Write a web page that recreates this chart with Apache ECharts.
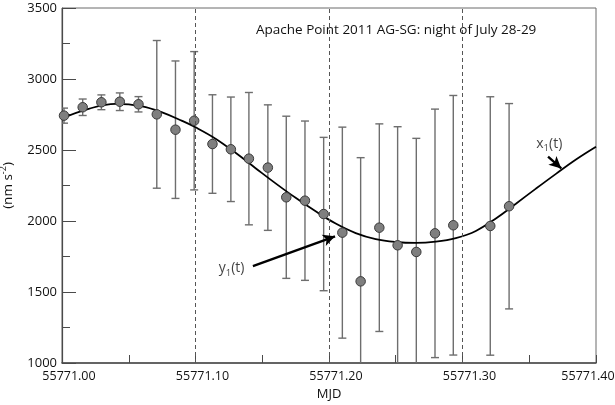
<!DOCTYPE html>
<html>
<head>
<meta charset="utf-8">
<script src="https://cdn.jsdelivr.net/npm/echarts@6/dist/echarts.min.js"></script>
<style>
html,body{margin:0;padding:0;background:#fff;}
#c{width:615px;height:405px;}
</style>
</head>
<body>
<div id="c"></div>
<script>
// ---- data ----
var mjd = [55771.0015, 55771.0155, 55771.0295, 55771.0433, 55771.0573, 55771.0710, 55771.0850, 55771.0990,
           55771.1127, 55771.1265, 55771.1400, 55771.1542, 55771.1680, 55771.1820, 55771.1960, 55771.2100,
           55771.2237, 55771.2377, 55771.2514, 55771.2654, 55771.2794, 55771.2931, 55771.3208, 55771.3349];
var gravity = [2742, 2801, 2836, 2840, 2822, 2751, 2643, 2706,
               2542, 2505, 2439, 2376, 2167, 2143, 2049, 1918,
               1575, 1953, 1829, 1782, 1913, 1970, 1965, 2104];
var errors = [53, 58, 52, 62, 54, 520, 484, 487,
              347, 368, 466, 442, 571, 561, 540, 743,
              871, 731, 835, 800, 875, 914, 910, 723];

var curveMjd = [55771.000, 55771.020, 55771.040, 55771.060, 55771.075, 55771.090, 55771.100, 55771.115,
                55771.130, 55771.145, 55771.160, 55771.175, 55771.190, 55771.205, 55771.220, 55771.235,
                55771.250, 55771.265, 55771.280, 55771.295, 55771.310, 55771.325, 55771.340, 55771.355,
                55771.370, 55771.385, 55771.400];
var curveVal = [2723, 2790, 2825, 2808, 2765, 2705, 2660, 2580,
                2480, 2372, 2265, 2163, 2068, 1982, 1915, 1872,
                1852, 1846, 1855, 1880, 1930, 2018, 2122, 2228,
                2332, 2433, 2523];

var dashedMjd = [55771.10, 55771.20, 55771.30];

var titleText = 'Apache Point 2011 AG-SG: night of July 28-29';
var xName = 'MJD';
var xMin = 55771.00, xMax = 55771.40, xStep = 0.1;
var yMin = 1000, yMax = 3500, yStep = 500;

// annotations: [label point], [arrow start, arrow end]
var x1Label = [55771.365, 2545];
var x1Arrow = [[55771.3641, 2454], [55771.3740, 2370]];
var y1Label = [55771.127, 1669];
var y1Arrow = [[55771.1430, 1683], [55771.2045, 1892]];

var FONT = 'Open Sans';

var chart = echarts.init(document.getElementById('c'), null, {renderer: 'canvas'});

var pts = mjd.map(function (x, i) { return [x, gravity[i], errors[i]]; });
var curve = curveMjd.map(function (x, i) { return [x, curveVal[i]]; });

function arrowLine(a) {
  return [{coord: a[0], symbol: 'none'}, {coord: a[1], symbol: 'arrow'}];
}

var option = {
  animation: false,
  backgroundColor: '#ffffff',
  title: {
    text: titleText,
    left: 251, top: 18,
    textStyle: {fontFamily: FONT, fontSize: 13.5, fontWeight: 'normal', color: '#111'}
  },
  grid: {
    left: 62, right: 19, top: 8, bottom: 42,
    containLabel: false, outerBoundsMode: 'none',
    show: true, borderColor: '#6a6a6a', borderWidth: 1, backgroundColor: 'transparent'
  },
  xAxis: {
    type: 'value', min: xMin, max: xMax, interval: xStep,
    name: xName, nameLocation: 'middle', nameGap: 25,
    nameTextStyle: {fontFamily: FONT, fontSize: 13, color: '#111'},
    axisLine: {lineStyle: {color: '#4a4a4a', width: 1.6}},
    axisTick: {inside: true, length: 8, lineStyle: {color: '#4a4a4a', width: 1}},
    minorTick: {show: true, splitNumber: 2, length: 8, lineStyle: {color: '#4a4a4a', width: 1}},
    splitLine: {show: false},
    axisLabel: {
      margin: 7, color: '#111', fontFamily: FONT, fontSize: 12.5,
      formatter: function (v) {
        var s = v.toFixed(2);
        if (Math.abs(v - xMax) < 1e-6) return '{e|' + s + '}';
        return '{n|' + s + '}';
      },
      rich: {
        n: {fontFamily: FONT, fontSize: 12.5, color: '#111', padding: [0, 0, 0, 14]},
        e: {fontFamily: FONT, fontSize: 12.5, color: '#111', padding: [0, 16, 0, 0]}
      }
    }
  },
  yAxis: {
    type: 'value', min: yMin, max: yMax, interval: yStep,
    name: '{a|(nm s}{s|-2}{a|)}', nameLocation: 'middle', nameGap: 44, nameRotate: 90,
    nameTextStyle: {
      rich: {
        a: {fontFamily: FONT, fontSize: 13.5, color: '#111', lineHeight: 19, verticalAlign: 'middle'},
        s: {fontFamily: FONT, fontSize: 9, color: '#111', lineHeight: 9, verticalAlign: 'top'}
      }
    },
    axisLine: {show: true, lineStyle: {color: '#4a4a4a', width: 1.2}},
    axisTick: {inside: true, length: 14, lineStyle: {color: '#4a4a4a', width: 1}},
    minorTick: {show: true, splitNumber: 2, length: 8, lineStyle: {color: '#4a4a4a', width: 1}},
    splitLine: {show: false},
    axisLabel: {
      margin: 5, color: '#111', fontFamily: FONT, fontSize: 13,
      formatter: function (v) { return String(Math.round(v)); }
    }
  },
  series: [
    {
      name: 'dashed', type: 'line', data: [], silent: true,
      markLine: {
        silent: true, symbol: 'none', label: {show: false},
        lineStyle: {color: '#555', type: [4, 3], width: 1},
        data: dashedMjd.map(function (x) { return {xAxis: x}; })
      }
    },
    {
      name: 'errorbars', type: 'custom', data: pts, z: 2, clip: true,
      renderItem: function (params, api) {
        var x = api.value(0), y = api.value(1), e = api.value(2);
        var top = api.coord([x, y + e]);
        var bot = api.coord([x, y - e]);
        var cs = params.coordSys;
        var yTop = Math.max(top[1], cs.y), yBot = Math.min(bot[1], cs.y + cs.height);
        var cap = 4;
        var st = {stroke: '#6e6e6e', lineWidth: 1.4};
        var children = [{type: 'line', shape: {x1: top[0], y1: yTop, x2: top[0], y2: yBot}, style: st}];
        if (top[1] >= cs.y) children.push({type: 'line', shape: {x1: top[0] - cap, y1: top[1], x2: top[0] + cap, y2: top[1]}, style: st});
        if (bot[1] <= cs.y + cs.height) children.push({type: 'line', shape: {x1: bot[0] - cap, y1: bot[1], x2: bot[0] + cap, y2: bot[1]}, style: st});
        return {type: 'group', children: children};
      }
    },
    {
      name: 'x1', type: 'line', data: curve, smooth: 0.4, showSymbol: false, z: 3,
      lineStyle: {color: '#000', width: 1.8}
    },
    {
      name: 'points', type: 'scatter', data: pts.map(function (p) { return [p[0], p[1]]; }), z: 4,
      symbol: 'circle', symbolSize: 9.5,
      itemStyle: {color: '#7f7f7f', borderColor: '#3a3a3a', borderWidth: 1, opacity: 1},
      markLine: {
        silent: true, animation: false, label: {show: false},
        symbolSize: [9, 12],
        lineStyle: {color: '#000', width: 2.4, type: 'solid'},
        data: [arrowLine(x1Arrow), arrowLine(y1Arrow)]
      }
    },
    {
      name: 'labels', type: 'scatter', symbolSize: 0, z: 5, silent: true,
      data: [x1Label, y1Label].map(function (p, i) { return {value: p, name: i === 0 ? 'x' : 'y'}; }),
      label: {
        show: true, position: 'inside',
        formatter: function (p) { return '{t|' + p.name + '}{s|1}{t|(t)}'; },
        rich: {
          t: {fontFamily: FONT, fontSize: 14, color: '#111', lineHeight: 20, verticalAlign: 'middle'},
          s: {fontFamily: FONT, fontSize: 9.5, color: '#111', lineHeight: 10, verticalAlign: 'bottom'}
        }
      }
    }
  ]
};
chart.setOption(option);
</script>
</body>
</html>
